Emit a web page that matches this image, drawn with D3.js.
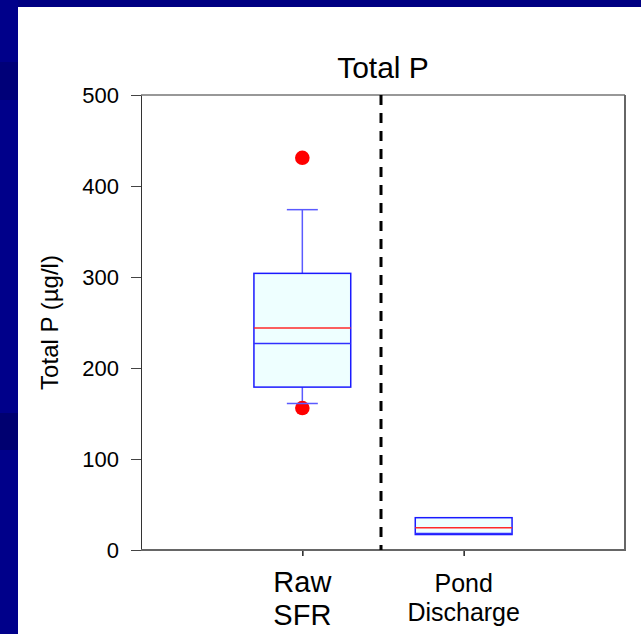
<!DOCTYPE html>
<html>
<head>
<meta charset="utf-8">
<script src="https://cdn.jsdelivr.net/npm/d3@7"></script>
<style>
  html, body { margin: 0; padding: 0; background: #00008a; }
  svg { display: block; font-family: "Liberation Sans", Arial, sans-serif; }
</style>
</head>
<body>
<svg id="chart" width="641" height="634"></svg>
<script>
// Total phosphorus by sampling location (µg/l)
const categories = ["Raw SFR", "Pond Discharge"];
const categoryLines = [["Raw", "SFR"], ["Pond", "Discharge"]];
const boxQ1 = [179, 17];
const boxMedian = [227, 18];
const boxQ3 = [304, 35.5];
const boxMean = [244, 24.5];
const whiskerLow = [161, null];
const whiskerHigh = [374, null];
const outliers = [[431, 156], []];
const yTicks = [0, 100, 200, 300, 400, 500];

const svg = d3.select("#chart");
const W = 641, H = 634;

// slide background with a few darker bands
svg.append("rect").attr("width", W).attr("height", H).attr("fill", "#00008a");
svg.append("rect").attr("x", 0).attr("y", 62).attr("width", 18).attr("height", 38).attr("fill", "#000078");
svg.append("rect").attr("x", 0).attr("y", 413).attr("width", 18).attr("height", 37).attr("fill", "#000070");
svg.append("rect").attr("x", 18).attr("y", 0).attr("width", W - 18).attr("height", 7).attr("fill", "#000082");
svg.append("rect").attr("x", 18).attr("y", 7).attr("width", W - 18).attr("height", H - 7).attr("fill", "#ffffff");

const plot = { left: 141, right: 625, top: 95, bottom: 550 };
const x = d3.scaleLinear().domain([0, 3]).range([plot.left, plot.right]);
const y = d3.scaleLinear().domain([0, 500]).range([plot.bottom, plot.top]);
const pos = categories.map((c, i) => i + 1);
const halfBox = 0.3, halfCap = 0.096;

// title
svg.append("text").attr("x", x(1.5)).attr("y", 78).attr("text-anchor", "middle")
  .attr("font-size", 30).attr("fill", "#000").text("Total P");

// y axis
const yAxis = d3.axisLeft(y).tickValues(yTicks).tickSize(10).tickSizeOuter(0).tickPadding(12);
const gy = svg.append("g").attr("transform", `translate(${plot.left},0)`).call(yAxis);
gy.select(".domain").attr("stroke", "#333");
gy.selectAll(".tick line").attr("stroke", "#444");
gy.selectAll(".tick text").attr("font-size", 22).attr("fill", "#000")
  .attr("font-family", "Liberation Sans, Arial, sans-serif");

svg.append("text")
  .attr("transform", `translate(58,${(plot.top + plot.bottom) / 2}) rotate(-90)`)
  .attr("text-anchor", "middle").attr("font-size", 24).attr("fill", "#000")
  .text("Total P (µg/l)");

// x axis ticks and category labels
const xAxis = d3.axisBottom(x).tickValues(pos).tickSize(6).tickSizeOuter(0).tickFormat("");
const gx = svg.append("g").attr("transform", `translate(0,${plot.bottom})`).call(xAxis);
gx.select(".domain").remove();
gx.selectAll(".tick line").attr("stroke", "#222").attr("stroke-width", 1.5);

const labelSizes = [29, 25];
const labelBaselines = [[592, 625], [592, 621]];
categoryLines.forEach((lines, i) => {
  lines.forEach((t, j) => {
    svg.append("text").attr("x", x(pos[i])).attr("y", labelBaselines[i][j])
      .attr("text-anchor", "middle").attr("font-size", labelSizes[i]).attr("fill", "#000").text(t);
  });
});

// frame
svg.append("line").attr("x1", plot.left).attr("x2", plot.right).attr("y1", plot.top).attr("y2", plot.top)
  .attr("stroke", "#333").attr("stroke-width", 1.2);
svg.append("line").attr("x1", plot.right).attr("x2", plot.right).attr("y1", plot.top).attr("y2", plot.bottom)
  .attr("stroke", "#666").attr("stroke-width", 2);
svg.append("line").attr("x1", plot.left).attr("x2", plot.right + 1).attr("y1", plot.bottom).attr("y2", plot.bottom)
  .attr("stroke", "#666").attr("stroke-width", 2);

// divider between groups
svg.append("line").attr("x1", x(1.5) - 2).attr("x2", x(1.5) - 2).attr("y1", plot.top).attr("y2", plot.bottom)
  .attr("stroke", "#000").attr("stroke-width", 3).attr("stroke-dasharray", "10,8");

// box plots
const g = svg.append("g");
categories.forEach((c, i) => {
  const cx = pos[i];
  if (whiskerHigh[i] != null) {
    g.append("line").attr("x1", x(cx)).attr("x2", x(cx)).attr("y1", y(boxQ3[i])).attr("y2", y(whiskerHigh[i]))
      .attr("stroke", "#5a5aff").attr("stroke-width", 1.5);
    g.append("line").attr("x1", x(cx - halfCap)).attr("x2", x(cx + halfCap)).attr("y1", y(whiskerHigh[i])).attr("y2", y(whiskerHigh[i]))
      .attr("stroke", "#5a5aff").attr("stroke-width", 1.5);
  }
  if (whiskerLow[i] != null) {
    g.append("line").attr("x1", x(cx)).attr("x2", x(cx)).attr("y1", y(boxQ1[i])).attr("y2", y(whiskerLow[i]))
      .attr("stroke", "#5a5aff").attr("stroke-width", 1.5);
  }
  g.append("rect").attr("x", x(cx - halfBox)).attr("y", y(boxQ3[i]))
    .attr("width", x(cx + halfBox) - x(cx - halfBox)).attr("height", y(boxQ1[i]) - y(boxQ3[i]))
    .attr("fill", "#eeffff").attr("stroke", "#1a1aff").attr("stroke-width", 1.5);
  g.append("line").attr("x1", x(cx - halfBox)).attr("x2", x(cx + halfBox)).attr("y1", y(boxMedian[i])).attr("y2", y(boxMedian[i]))
    .attr("stroke", "#3030ff").attr("stroke-width", 1.5);
  g.append("line").attr("x1", x(cx - halfBox)).attr("x2", x(cx + halfBox)).attr("y1", y(boxMean[i])).attr("y2", y(boxMean[i]))
    .attr("stroke", "#ff2a2a").attr("stroke-width", 1.6);
  g.selectAll(null).data(outliers[i]).enter().append("circle")
    .attr("cx", x(cx)).attr("cy", d => y(d)).attr("r", 7.3).attr("fill", "#ff0000");
  if (whiskerLow[i] != null) {
    g.append("line").attr("x1", x(cx - halfCap)).attr("x2", x(cx + halfCap)).attr("y1", y(whiskerLow[i])).attr("y2", y(whiskerLow[i]))
      .attr("stroke", "#5a5aff").attr("stroke-width", 1.5);
  }
});
</script>
</body>
</html>
